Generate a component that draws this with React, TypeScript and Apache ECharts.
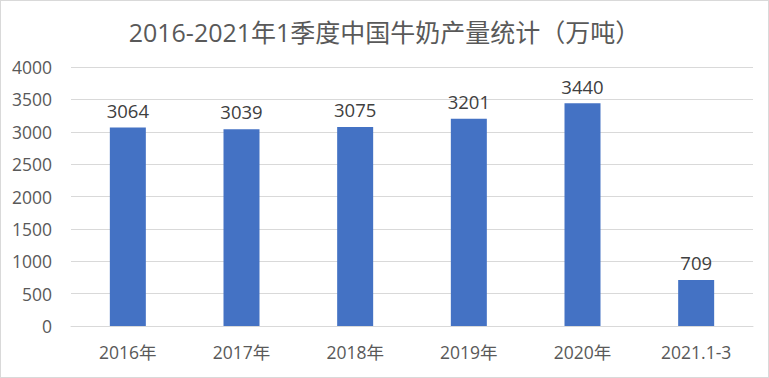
import React, { useEffect, useRef } from "react";
import * as echarts from "echarts";

const categories = ["2016年", "2017年", "2018年", "2019年", "2020年", "2021.1-3"];
const values = [3064, 3039, 3075, 3201, 3440, 709];
const titleText = "2016-2021年1季度中国牛奶产量统计（万吨）";

const FONT = "'Open Sans', 'Noto Sans CJK SC', sans-serif";

export default function App() {
  const ref = useRef<HTMLDivElement>(null);
  useEffect(() => {
    if (!ref.current) return;
    const chart = echarts.init(ref.current, null, { renderer: "svg" });
    chart.setOption({
      animation: false,
      backgroundColor: "#ffffff",
      textStyle: { fontFamily: FONT },
      title: {
        text: titleText,
        left: "center",
        top: 13,
        textStyle: { fontSize: 25, fontWeight: "normal", color: "#595959", fontFamily: FONT },
      },
      grid: { left: 70, right: 15, top: 66, bottom: 51 },
      xAxis: {
        type: "category",
        data: categories,
        axisLine: { lineStyle: { color: "#d9d9d9" } },
        axisTick: { show: false },
        axisLabel: { color: "#595959", fontSize: 17.5, margin: 17, fontFamily: FONT },
      },
      yAxis: {
        type: "value",
        min: 0,
        max: 4000,
        interval: 500,
        axisLine: { show: false },
        axisTick: { show: false },
        splitLine: { lineStyle: { color: "#d9d9d9" } },
        axisLabel: {
          color: "#595959",
          fontSize: 17.5,
          margin: 19,
          fontFamily: FONT,
          formatter: (v: number) => String(v),
        },
      },
      series: [
        {
          type: "bar",
          data: values,
          barWidth: 36,
          itemStyle: { color: "#4472C4" },
          label: {
            show: true,
            position: "top",
            distance: 8,
            color: "#404040",
            fontSize: 18.5,
            fontFamily: FONT,
          },
        },
      ],
    });
    return () => chart.dispose();
  }, []);
  return (
    <div
      style={{
        position: "fixed",
        left: 0,
        top: 0,
        width: 769,
        height: 378,
        border: "1px solid #d9d9d9",
        boxSizing: "border-box",
        background: "#fff",
      }}
    >
      <div ref={ref} style={{ width: 767, height: 376 }} />
    </div>
  );
}
